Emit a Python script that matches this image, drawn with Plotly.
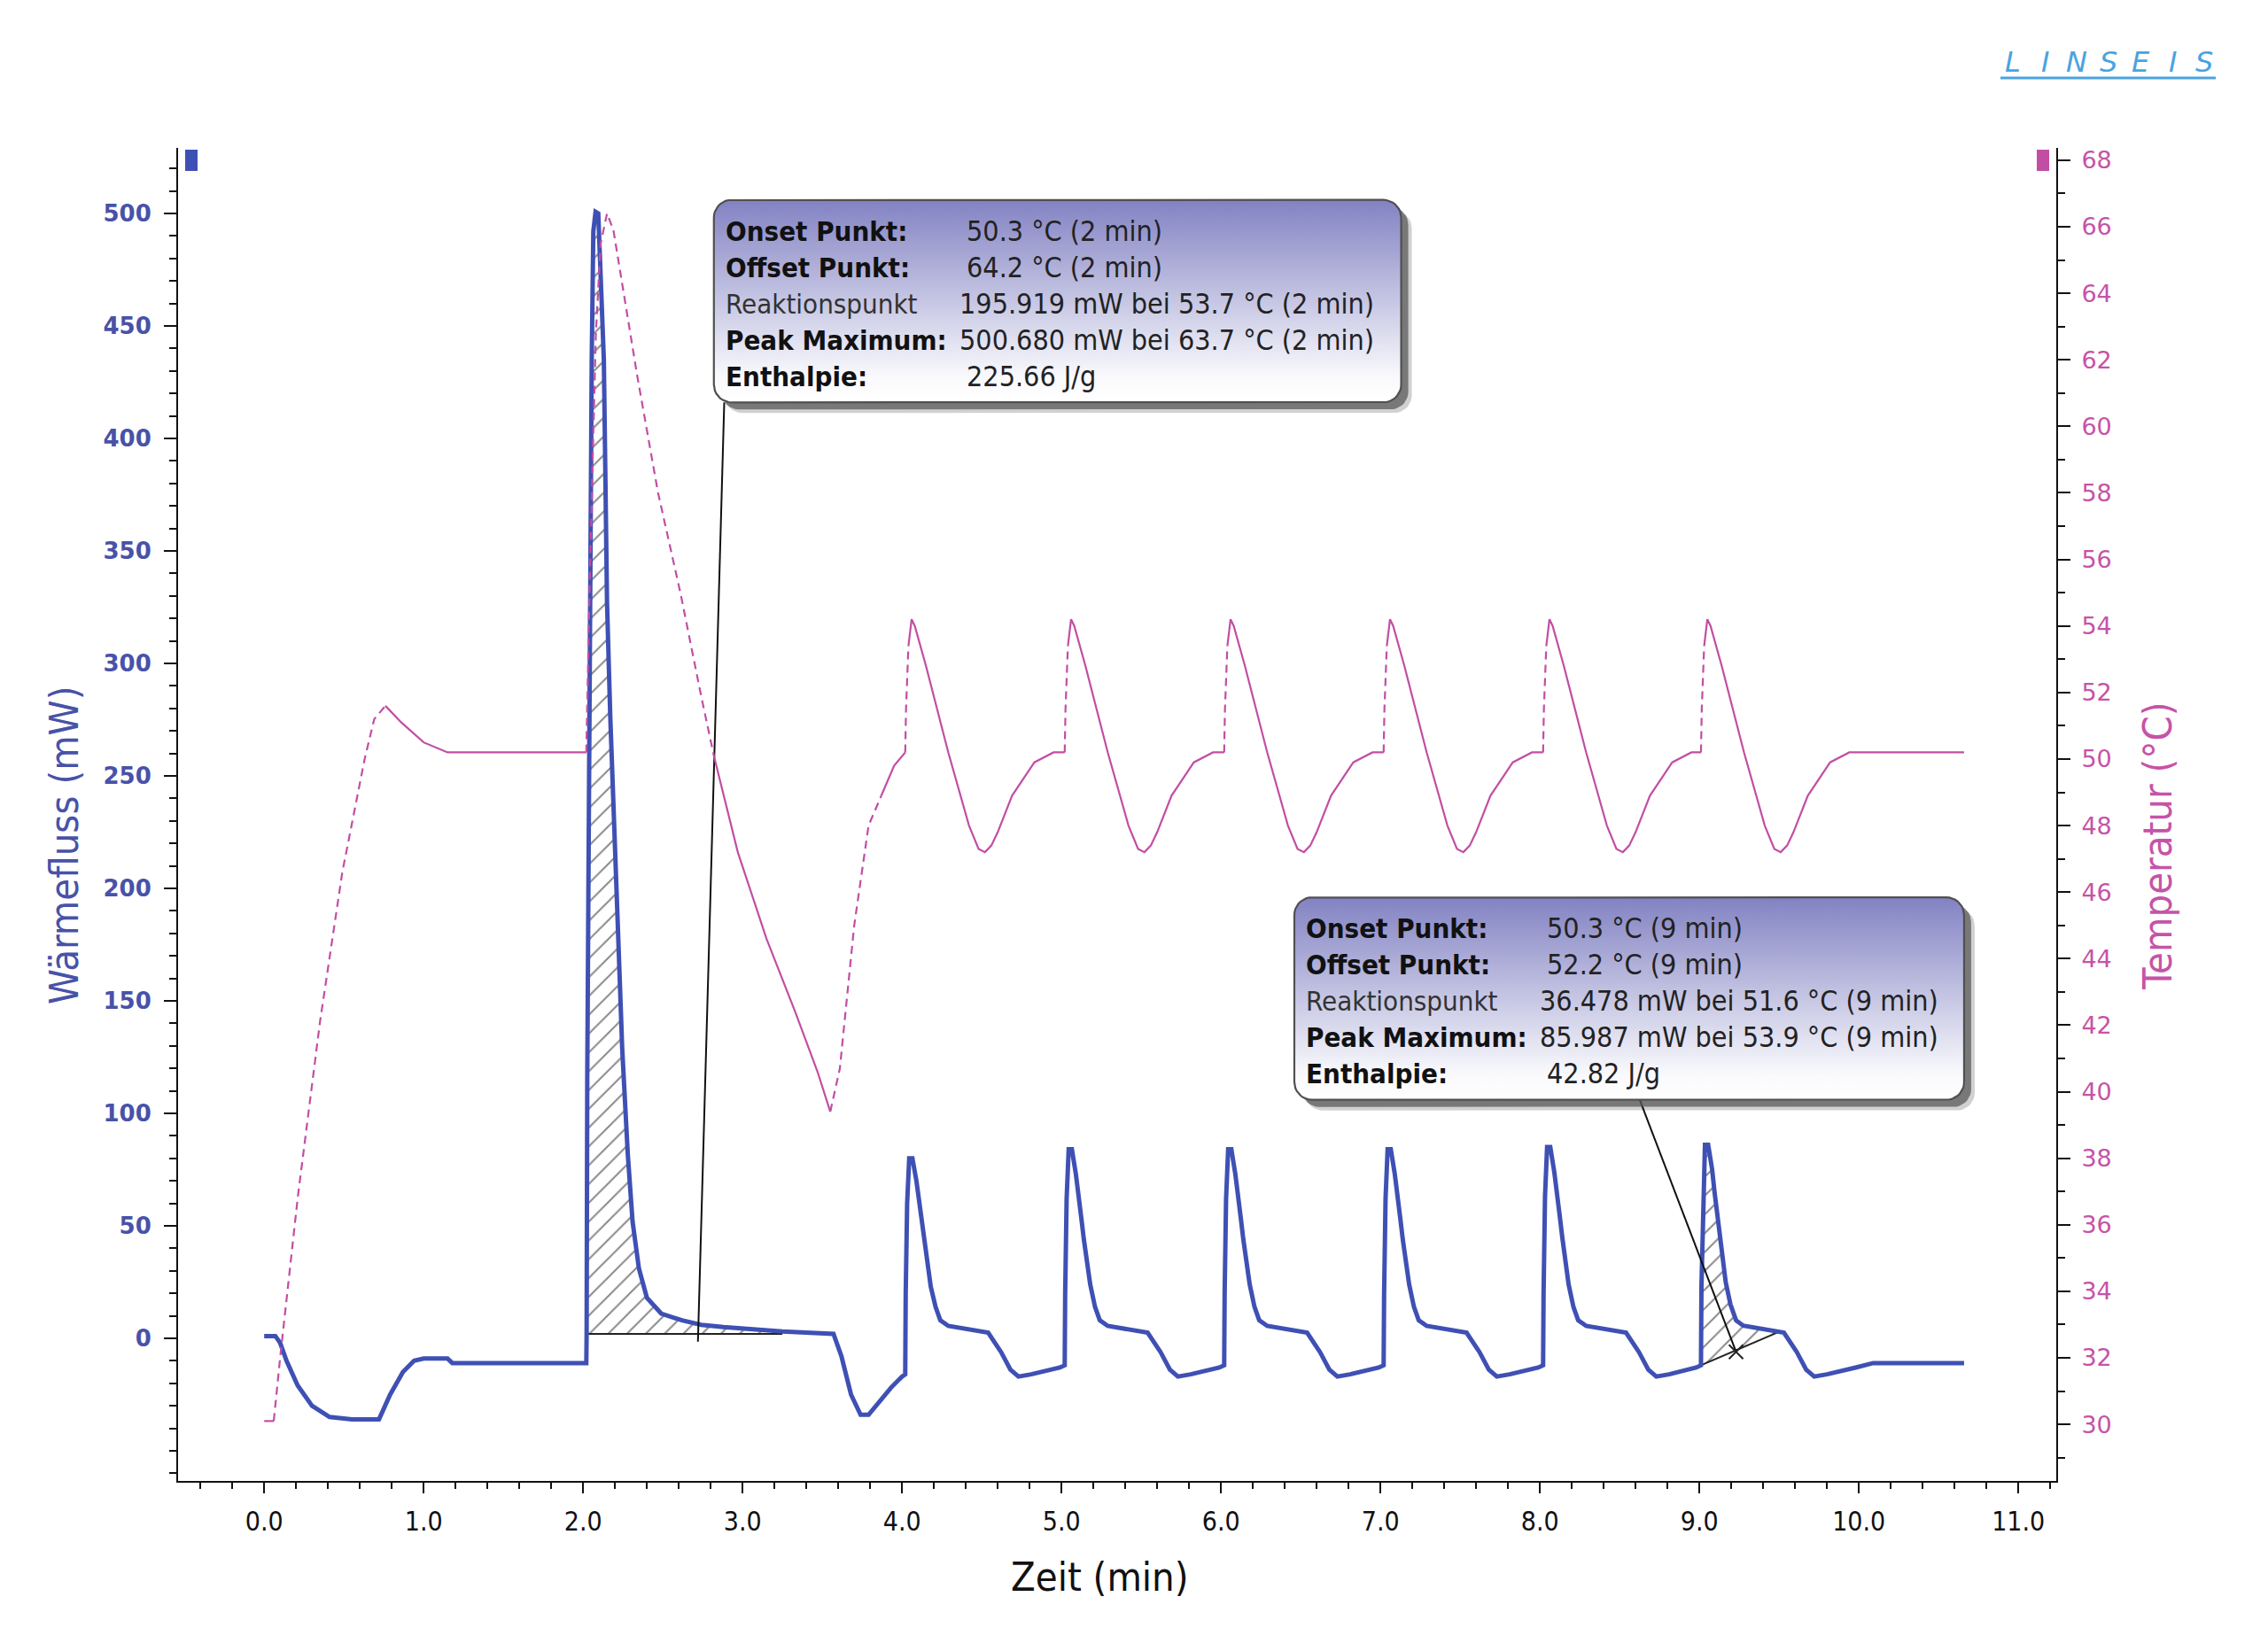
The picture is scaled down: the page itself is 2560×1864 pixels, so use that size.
import numpy as np
import plotly.graph_objects as go

# ---------------- data ----------------
hf_time = [0.00, 0.07, 0.10, 0.14, 0.21, 0.30, 0.41, 0.55, 0.67, 0.72, 0.79, 0.87, 0.94, 1.00, 1.15, 1.18, 2.02,
           2.022, 2.026, 2.034, 2.044, 2.054, 2.064, 2.078, 2.095, 2.13, 2.15, 2.17, 2.19, 2.21, 2.23, 2.245, 2.26,
           2.28, 2.31, 2.35, 2.40, 2.49, 2.62, 2.74, 2.88, 3.05, 3.25, 3.57,
           3.62, 3.68, 3.74, 3.79, 3.86, 3.93, 4.00, 4.02,
           4.023, 4.032, 4.045, 4.065, 4.09, 4.11, 4.125, 4.14, 4.16, 4.18, 4.21, 4.24, 4.29, 4.38, 4.51, 4.54,
           4.62, 4.68, 4.73, 4.81, 4.99, 5.02,
           5.023, 5.032, 5.045, 5.065, 5.09, 5.11, 5.125, 5.14, 5.16, 5.18, 5.21, 5.24, 5.29, 5.38, 5.51, 5.54,
           5.62, 5.68, 5.73, 5.81, 5.99, 6.02,
           6.023, 6.032, 6.045, 6.065, 6.09, 6.11, 6.125, 6.14, 6.16, 6.18, 6.21, 6.24, 6.29, 6.38, 6.51, 6.54,
           6.62, 6.68, 6.73, 6.81, 6.99, 7.02,
           7.023, 7.032, 7.045, 7.065, 7.09, 7.11, 7.125, 7.14, 7.16, 7.18, 7.21, 7.24, 7.29, 7.38, 7.51, 7.54,
           7.62, 7.68, 7.73, 7.81, 7.99, 8.02,
           8.023, 8.032, 8.045, 8.065, 8.09, 8.11, 8.125, 8.14, 8.16, 8.18, 8.21, 8.24, 8.29, 8.38, 8.51, 8.54,
           8.62, 8.68, 8.73, 8.81, 8.98, 9.01,
           9.013, 9.025, 9.035, 9.055, 9.08, 9.095, 9.115, 9.13, 9.15, 9.165, 9.195, 9.23, 9.275, 9.37, 9.50, 9.53,
           9.61, 9.67, 9.72, 9.80, 9.98, 10.09, 10.66]
hf_value = [1, 1, -2, -10, -21, -30, -35, -36, -36, -36, -25, -15, -10, -9, -9, -11, -11,
            2, 116, 257, 324, 435, 492, 500.7, 500, 435, 327, 277, 233, 193, 159, 129, 105,
            82, 52, 31, 18, 11, 8, 6, 5, 4, 3, 2,
            -8, -25, -34, -34, -28, -22, -17, -16,
            20, 60, 80, 80, 70, 60, 50, 42, 33, 23, 14, 8, 5.5, 4.3, 3, 2.5,
            -6, -14, -17, -16, -13, -12,
            20, 62, 84, 84, 73, 63, 53, 44, 35, 24, 14, 8, 5.5, 4.3, 3, 2.5,
            -6, -14, -17, -16, -13, -12,
            20, 62, 84, 84, 73, 63, 53, 44, 35, 24, 14, 8, 5.5, 4.3, 3, 2.5,
            -6, -14, -17, -16, -13, -12,
            20, 62, 84, 84, 73, 63, 53, 44, 35, 24, 14, 8, 5.5, 4.3, 3, 2.5,
            -6, -14, -17, -16, -13, -12,
            20, 63, 85, 85, 74, 64, 54, 45, 35, 24, 14, 8, 5.5, 4.3, 3, 2.5,
            -6, -14, -17, -16, -13, -12,
            23, 65, 86, 86, 75, 65, 54, 45, 36, 25, 15, 8, 5.6, 4.3, 3, 2.5,
            -6, -14, -17, -16, -13, -11, -11]

temp_time = [0.00, 0.06, 0.10, 0.21, 0.35, 0.49, 0.63, 0.69, 0.76, 0.86, 1.00, 1.15, 2.02,
             2.025, 2.04, 2.06, 2.08, 2.11, 2.15, 2.19, 2.25, 2.34, 2.47, 2.61, 2.74, 2.82,
             2.97, 3.15, 3.33, 3.47, 3.55, 3.61, 3.70, 3.79, 3.87, 3.95, 4.02,
             4.025, 4.04, 4.06, 4.08, 4.15, 4.29, 4.42, 4.48, 4.52, 4.56, 4.60, 4.69, 4.83, 4.95, 5.02,
             5.025, 5.04, 5.06, 5.08, 5.15, 5.29, 5.42, 5.48, 5.52, 5.56, 5.60, 5.69, 5.83, 5.95, 6.02,
             6.025, 6.04, 6.06, 6.08, 6.15, 6.29, 6.42, 6.48, 6.52, 6.56, 6.60, 6.69, 6.83, 6.95, 7.02,
             7.025, 7.04, 7.06, 7.08, 7.15, 7.29, 7.42, 7.48, 7.52, 7.56, 7.60, 7.69, 7.83, 7.95, 8.02,
             8.025, 8.04, 8.06, 8.08, 8.15, 8.29, 8.42, 8.48, 8.52, 8.56, 8.60, 8.69, 8.83, 8.95, 9.01,
             9.015, 9.03, 9.05, 9.07, 9.14, 9.28, 9.41, 9.47, 9.51, 9.55, 9.59, 9.68, 9.82, 9.94, 10.66]
temp_value = [30.1, 30.1, 32.0, 36.8, 42.1, 46.6, 50.0, 51.2, 51.6, 51.1, 50.5, 50.2, 50.2,
              51.5, 55.0, 59.0, 62.8, 65.5, 66.4, 65.9, 64.1, 61.5, 58.0, 55.0, 51.9, 50.1,
              47.2, 44.6, 42.4, 40.6, 39.4, 40.7, 45.0, 48.0, 48.9, 49.8, 50.2,
              51.5, 53.4, 54.2, 54.0, 52.8, 50.2, 48.0, 47.3, 47.2, 47.4, 47.8, 48.9, 49.9, 50.2, 50.2,
              51.5, 53.4, 54.2, 54.0, 52.8, 50.2, 48.0, 47.3, 47.2, 47.4, 47.8, 48.9, 49.9, 50.2, 50.2,
              51.5, 53.4, 54.2, 54.0, 52.8, 50.2, 48.0, 47.3, 47.2, 47.4, 47.8, 48.9, 49.9, 50.2, 50.2,
              51.5, 53.4, 54.2, 54.0, 52.8, 50.2, 48.0, 47.3, 47.2, 47.4, 47.8, 48.9, 49.9, 50.2, 50.2,
              51.5, 53.4, 54.2, 54.0, 52.8, 50.2, 48.0, 47.3, 47.2, 47.4, 47.8, 48.9, 49.9, 50.2, 50.2,
              51.5, 53.4, 54.2, 54.0, 52.8, 50.2, 48.0, 47.3, 47.2, 47.4, 47.8, 48.9, 49.9, 50.2, 50.2]
# line style of the segment that starts at each point: D = dashed, S = solid
temp_style = (["S"] + ["D"] * 7 + ["S"] * 4 +
              ["D"] * 13 +
              ["S"] * 5 + ["D"] * 4 + ["S"] * 2 +
              (["D"] * 2 + ["S"] * 13) * 6)[:len(temp_time)]

x_tick_vals = [0, 1, 2, 3, 4, 5, 6, 7, 8, 9, 10, 11]
x_tick_text = ["0.0", "1.0", "2.0", "3.0", "4.0", "5.0", "6.0", "7.0", "8.0", "9.0", "10.0", "11.0"]
hf_tick_vals = [0, 50, 100, 150, 200, 250, 300, 350, 400, 450, 500]
temp_tick_vals = [30, 32, 34, 36, 38, 40, 42, 44, 46, 48, 50, 52, 54, 56, 58, 60, 62, 64, 66, 68]

# integration ranges and baselines (time, mW)
peak1_base_t = [2.022, 3.25]
peak1_base_v = [2, 2]
peak7_base_t = [9.01, 9.49]
peak7_base_v = [-12, 2.6]

box1_labels = ["<b>Onset Punkt:</b>", "<b>Offset Punkt:</b>", "Reaktionspunkt", "<b>Peak Maximum:</b>", "<b>Enthalpie:</b>"]
box1_values = ["50.3 °C (2 min)", "64.2 °C (2 min)", "195.919 mW bei 53.7 °C (2 min)",
               "500.680 mW bei 63.7 °C (2 min)", "225.66 J/g"]
box2_labels = box1_labels
box2_values = ["50.3 °C (9 min)", "52.2 °C (9 min)", "36.478 mW bei 51.6 °C (9 min)",
               "85.987 mW bei 53.9 °C (9 min)", "42.82 J/g"]

# ---------------- layout geometry (page pixels) ----------------
BODY = 8                      # default page margin around the plot div
W, H = 2560 - BODY, 1864 - BODY
PL, PR, PT, PB = 201, 2321, 167, 1672   # plot area on the page
ML, MT = PL - BODY, PT - BODY
MR, MB = W - (PR - BODY), H - (PB - BODY)
PW, PH = PR - PL, PB - PT
X_RANGE = [-0.54, 11.238]
HF_RANGE = [-63.4, 529.1]
T_RANGE = [28.30, 68.37]

BLUE = "#3F50B4"
BLUE_TXT = "#4852A8"
MAG = "#C24EA3"
MAG_TXT = "#C653A8"
FONT_C = "DejaVu Sans Condensed, DejaVu Sans, sans-serif"
FONT = "DejaVu Sans, Verdana, sans-serif"


def px_paper(x, y):
    return (x - PL) / PW, (PB - y) / PH


def dx(px):
    return px * (X_RANGE[1] - X_RANGE[0]) / PW


def dy(px):
    return px * (HF_RANGE[1] - HF_RANGE[0]) / PH


def rounded_rect(x0, x1, y0, y1, r_px=20, n=10):
    rx, ry = dx(r_px), dy(r_px)
    xs, ys = [], []
    for cx, cy, a0, a1 in [(x1 - rx, y1 - ry, 0, 90), (x0 + rx, y1 - ry, 90, 180),
                           (x0 + rx, y0 + ry, 180, 270), (x1 - rx, y0 + ry, 270, 360)]:
        for a in np.radians(np.linspace(a0, a1, n)):
            xs.append(cx + rx * np.cos(a))
            ys.append(cy + ry * np.sin(a))
    xs.append(xs[0])
    ys.append(ys[0])
    return xs, ys


def styled(t, v, flags, want):
    xs, ys = [], []
    for i in range(len(t) - 1):
        if flags[i] != want:
            continue
        if xs and xs[-1] == t[i]:
            xs.append(t[i + 1]); ys.append(v[i + 1])
        else:
            if xs:
                xs.append(None); ys.append(None)
            xs += [t[i], t[i + 1]]; ys += [v[i], v[i + 1]]
    return xs, ys


def hatch_polygon(t0, t1, b0, b1):
    ta, va = np.array(hf_time), np.array(hf_value)
    m = (ta >= t0) & (ta <= t1)
    xs = [t0] + list(ta[m]) + [t1, t1, t0]
    ys = [np.interp(t0, ta, va)] + list(va[m]) + [np.interp(t1, ta, va), b1, b0]
    return xs, ys


fig = go.Figure()

# hatched integration areas
for (bt, bv) in [(peak1_base_t, peak1_base_v), (peak7_base_t, peak7_base_v)]:
    hx, hy = hatch_polygon(bt[0], bt[1], bv[0], bv[1])
    fig.add_trace(go.Scatter(x=hx, y=hy, mode="lines", fill="toself", line=dict(width=0),
                             fillcolor="rgba(255,255,255,0)",
                             fillpattern=dict(shape="/", fgcolor="#111111", bgcolor="rgba(255,255,255,0)",
                                              size=15, solidity=0.13)))
    fig.add_trace(go.Scatter(x=bt, y=bv, mode="lines", line=dict(color="#222222", width=2)))

# heat flow
fig.add_trace(go.Scatter(x=hf_time, y=hf_value, mode="lines", line=dict(color=BLUE, width=5)))

# temperature (solid and dashed parts)
sx, sy = styled(temp_time, temp_value, temp_style, "S")
qx, qy = styled(temp_time, temp_value, temp_style, "D")
fig.add_trace(go.Scatter(x=sx, y=sy, mode="lines", yaxis="y2", line=dict(color=MAG, width=2.2)))
fig.add_trace(go.Scatter(x=qx, y=qy, mode="lines", yaxis="y2", line=dict(color=MAG, width=2.2, dash="9px,6px")))

# result boxes
boxes = [
    dict(x0=2.82, x1=7.13, y0=416, y1=506, labels=box1_labels, values=box1_values,
         val_x=4.35, val_indent=[8, 8, 0, 0, 8], leader=([2.885, 2.72], [416, -1.5])),
    dict(x0=6.46, x1=10.66, y0=106, y1=196, labels=box2_labels, values=box2_values,
         val_x=7.99, val_indent=[8, 8, 0, 0, 8], leader=([8.626, 9.23], [106, -6])),
]
annotations = []
for b in boxes:
    fig.add_trace(go.Scatter(x=b["leader"][0], y=b["leader"][1], mode="lines", line=dict(color="#111111", width=2)))
    for off, col in [(12, "rgba(0,0,0,0.18)"), (8, "rgba(90,90,90,0.75)")]:
        sxs, sys_ = rounded_rect(b["x0"] + dx(off), b["x1"] + dx(off), b["y0"] - dy(off), b["y1"] - dy(off))
        fig.add_trace(go.Scatter(x=sxs, y=sys_, mode="lines", fill="toself", fillcolor=col, line=dict(width=0)))
    rxs, rys = rounded_rect(b["x0"], b["x1"], b["y0"], b["y1"])
    fig.add_trace(go.Scatter(x=rxs, y=rys, mode="lines", fill="toself",
                             fillgradient=dict(type="vertical",
                                               colorscale=[[0, "#ffffff"], [0.12, "#fafafd"], [1, "#8282c3"]]),
                             line=dict(color="#505050", width=2.2)))
    for i, (lab, val) in enumerate(zip(b["labels"], b["values"])):
        yc = b["y1"] - dy(35) - i * dy(41)
        annotations.append(dict(x=b["x0"] + dx(11), y=yc, xref="x", yref="y", text=lab, showarrow=False,
                                xanchor="left", yanchor="middle",
                                font=dict(family=FONT_C, size=31, color="#111111" if "<b>" in lab else "#333333")))
        annotations.append(dict(x=b["val_x"] + dx(b["val_indent"][i]), y=yc, xref="x", yref="y", text=val,
                                showarrow=False, xanchor="left", yanchor="middle",
                                font=dict(family=FONT_C, size=32, color="#222222")))

# end marker of the second leader line
fig.add_trace(go.Scatter(x=[9.23], y=[-6], mode="markers",
                         marker=dict(symbol="x-thin", size=16, line=dict(width=2, color="#222222"))))

# axis titles
for txt, (px, py), ang, col in [("Zeit (min)", (1241, 1780), 0, "#111111"),
                                ("Wärmefluss (mW)", (73, 955), -90, BLUE_TXT),
                                ("Temperatur (°C)", (2436, 955), -90, MAG_TXT)]:
    ax, ay = px_paper(px, py)
    annotations.append(dict(x=ax, y=ay, xref="paper", yref="paper", text=txt, textangle=ang,
                            xanchor="center", yanchor="middle", showarrow=False,
                            font=dict(family=FONT_C, size=45, color=col)))
# LINSEIS logo
for i, ch in enumerate("LINSEIS"):
    ax, ay = px_paper(2272 + i * 36, 70)
    annotations.append(dict(x=ax, y=ay, xref="paper", yref="paper", text="<i>" + ch + "</i>",
                            xanchor="center", yanchor="middle", showarrow=False,
                            font=dict(family=FONT, size=32, color="#4AA3DF")))

ux0, uy = px_paper(2258, 88)
ux1, _ = px_paper(2501, 88)
bx0, by0 = px_paper(209, 193)
bx1, by1 = px_paper(223, 169)
mx0, _ = px_paper(2299, 193)
mx1, _ = px_paper(2313, 169)
shapes = [
    dict(type="line", xref="paper", yref="paper", x0=ux0, x1=ux1, y0=uy, y1=uy, line=dict(color="#4AA3DF", width=3)),
    dict(type="rect", xref="paper", yref="paper", x0=bx0, x1=bx1, y0=by0, y1=by1, fillcolor=BLUE, line=dict(width=0)),
    dict(type="rect", xref="paper", yref="paper", x0=mx0, x1=mx1, y0=by0, y1=by1, fillcolor=MAG, line=dict(width=0)),
]

fig.update_layout(
    width=W, height=H, margin=dict(l=ML, r=MR, t=MT, b=MB, autoexpand=False),
    paper_bgcolor="white", plot_bgcolor="white", showlegend=False, hovermode=False,
    annotations=annotations, shapes=shapes,
    xaxis=dict(range=X_RANGE, tickmode="array", tickvals=x_tick_vals, ticktext=x_tick_text,
               showgrid=False, zeroline=False, showline=True, linecolor="#111111", linewidth=2,
               ticks="outside", ticklen=12, tickwidth=2, tickcolor="#111111", ticklabelstandoff=6,
               tickfont=dict(family=FONT_C, size=30, color="#111111"),
               minor=dict(tickmode="linear", tick0=0, dtick=0.2, ticks="outside", ticklen=7,
                          tickwidth=1.5, tickcolor="#111111", showgrid=False)),
    yaxis=dict(range=HF_RANGE, tickmode="array", tickvals=hf_tick_vals,
               showgrid=False, zeroline=False, showline=True, linecolor="#111111", linewidth=2,
               ticks="outside", ticklen=14, tickwidth=2, tickcolor="#111111", ticklabelstandoff=9,
               tickfont=dict(family=FONT, size=26, color=BLUE_TXT, weight="bold"),
               minor=dict(tickmode="linear", tick0=0, dtick=10, ticks="outside", ticklen=8,
                          tickwidth=1.5, tickcolor="#111111", showgrid=False)),
    yaxis2=dict(range=T_RANGE, overlaying="y", side="right", anchor="x", tickmode="array",
                tickvals=temp_tick_vals,
                showgrid=False, zeroline=False, showline=True, linecolor="#111111", linewidth=2,
                ticks="outside", ticklen=14, tickwidth=2, tickcolor="#111111", ticklabelstandoff=7,
                tickfont=dict(family=FONT, size=27, color=MAG_TXT),
                minor=dict(tickmode="linear", tick0=0, dtick=1, ticks="outside", ticklen=8,
                           tickwidth=1.5, tickcolor="#111111", showgrid=False)),
)

fig.write_html("out.html")
